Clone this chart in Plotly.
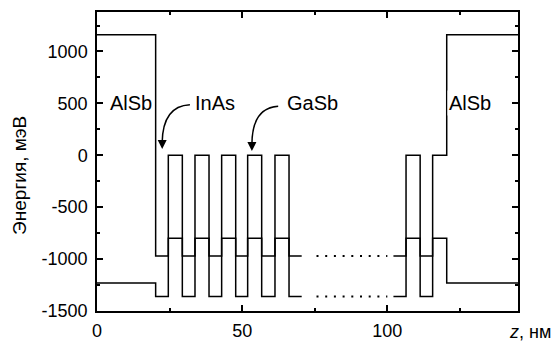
import plotly.graph_objects as go

# Band levels (meV): (upper line, lower line) for each material
materials = ["AlSb", "InAs", "GaSb"]
upper_level = [1160, -970, 0]
lower_level = [-1230, -1360, -800]

# Layer boundaries (nm) and materials of each layer
left_x = [0, 20.2, 24.56, 29.39, 33.75, 38.58, 42.93, 47.77, 51.89, 56.72, 61.3, 66.14, 70.5]
left_mat = ["AlSb", "InAs", "GaSb", "InAs", "GaSb", "InAs", "GaSb", "InAs", "GaSb", "InAs", "GaSb", "InAs"]
right_x = [102.1, 106.44, 111.3, 115.6, 120.45, 145]
right_mat = ["InAs", "GaSb", "InAs", "GaSb", "AlSb"]
dotted_x = [75.6, 100.0]

y_tick_vals = [-1500, -1000, -500, 0, 500, 1000]
y_tick_text = ["-1500", "-1000", "-500", "0", "500", "1000"]
x_tick_vals = [0, 50, 100]
x_tick_text = ["0", "50", "100"]

labels = ["AlSb", "InAs", "GaSb", "AlSb"]
label_x = [11.7, 40.8, 74.2, 128.5]
label_y = [505, 505, 505, 505]

# curved arrows (start, control, end)
arrow_curves = [
    [(32.0, 486), (22.7, 474), (22.45, 125)],
    [(62.4, 471), (53.4, 455), (53.35, 105)],
]

FONT = "Liberation Sans, Arial, Helvetica, sans-serif"
up = dict(zip(materials, upper_level))
lo = dict(zip(materials, lower_level))

fig = go.Figure()
for xs, mats in [(left_x, left_mat), (right_x, right_mat)]:
    for lv in (up, lo):
        ys = [lv[m] for m in mats]
        ys.append(ys[-1])
        fig.add_trace(go.Scatter(x=xs, y=ys, mode="lines",
                                 line=dict(color="black", width=1.5, shape="hv"),
                                 showlegend=False, hoverinfo="skip"))
for lv in (up, lo):
    fig.add_trace(go.Scatter(x=dotted_x, y=[lv["InAs"]] * 2, mode="lines",
                             line=dict(color="black", width=2, dash="2px,6.7px"),
                             showlegend=False, hoverinfo="skip"))

shapes = []
annotations = []
for (p0, p1, p2) in arrow_curves:
    shapes.append(dict(type="path", xref="x", yref="y",
                       path=f"M {p0[0]},{p0[1]} Q {p1[0]},{p1[1]} {p2[0]},{p2[1]}",
                       line=dict(color="black", width=1.5)))
    annotations.append(dict(x=p2[0], y=p2[1] - 65, xref="x", yref="y", ax=0, ay=-9,
                            showarrow=True, arrowhead=2, arrowsize=1.2, arrowwidth=1.5,
                            arrowcolor="black", text=""))

for t, x, y in zip(labels, label_x, label_y):
    annotations.append(dict(x=x, y=y, xref="x", yref="y", text=t, showarrow=False,
                            font=dict(family=FONT, size=20, color="black"),
                            bgcolor="white"))

annotations.append(dict(x=(20 - 97) / 421, y=(322 - 181) / 312, xref="paper", yref="paper",
                        text="Энергия, мэВ", textangle=-90, showarrow=False,
                        xanchor="center", yanchor="middle",
                        font=dict(family=FONT, size=19, color="#000000")))
annotations.append(dict(x=(507 - 97) / 421, y=(322 - 344) / 312, xref="paper", yref="paper",
                        text="<i>z</i>, нм", showarrow=False,
                        xanchor="left", yanchor="middle",
                        font=dict(family=FONT, size=18, color="black")))

axis_common = dict(showgrid=False, zeroline=False, showline=True, linecolor="black",
                   linewidth=1.5, ticks="inside", ticklen=6, tickwidth=1.5,
                   tickcolor="black", mirror="allticks",
                   tickfont=dict(family=FONT, size=18, color="black"))

fig.update_layout(
    width=559, height=351,
    margin=dict(l=97, r=41, t=10, b=29),
    paper_bgcolor="white", plot_bgcolor="white",
    xaxis=dict(range=[0, 145], tickmode="array", tickvals=x_tick_vals, ticktext=x_tick_text,
               minor=dict(dtick=25, tick0=0, ticks="inside", ticklen=3.5, tickwidth=1.5,
                          tickcolor="black"),
               ticklabelstandoff=3,
               **axis_common),
    yaxis=dict(range=[-1500, 1380], tickmode="array", tickvals=y_tick_vals, ticktext=y_tick_text,
               minor=dict(dtick=250, tick0=0, ticks="inside", ticklen=3.5, tickwidth=1.5,
                          tickcolor="black"),
               ticklabelstandoff=4,
               **axis_common),
    shapes=shapes,
    annotations=annotations,
    showlegend=False,
)

fig.write_html("out.html")
